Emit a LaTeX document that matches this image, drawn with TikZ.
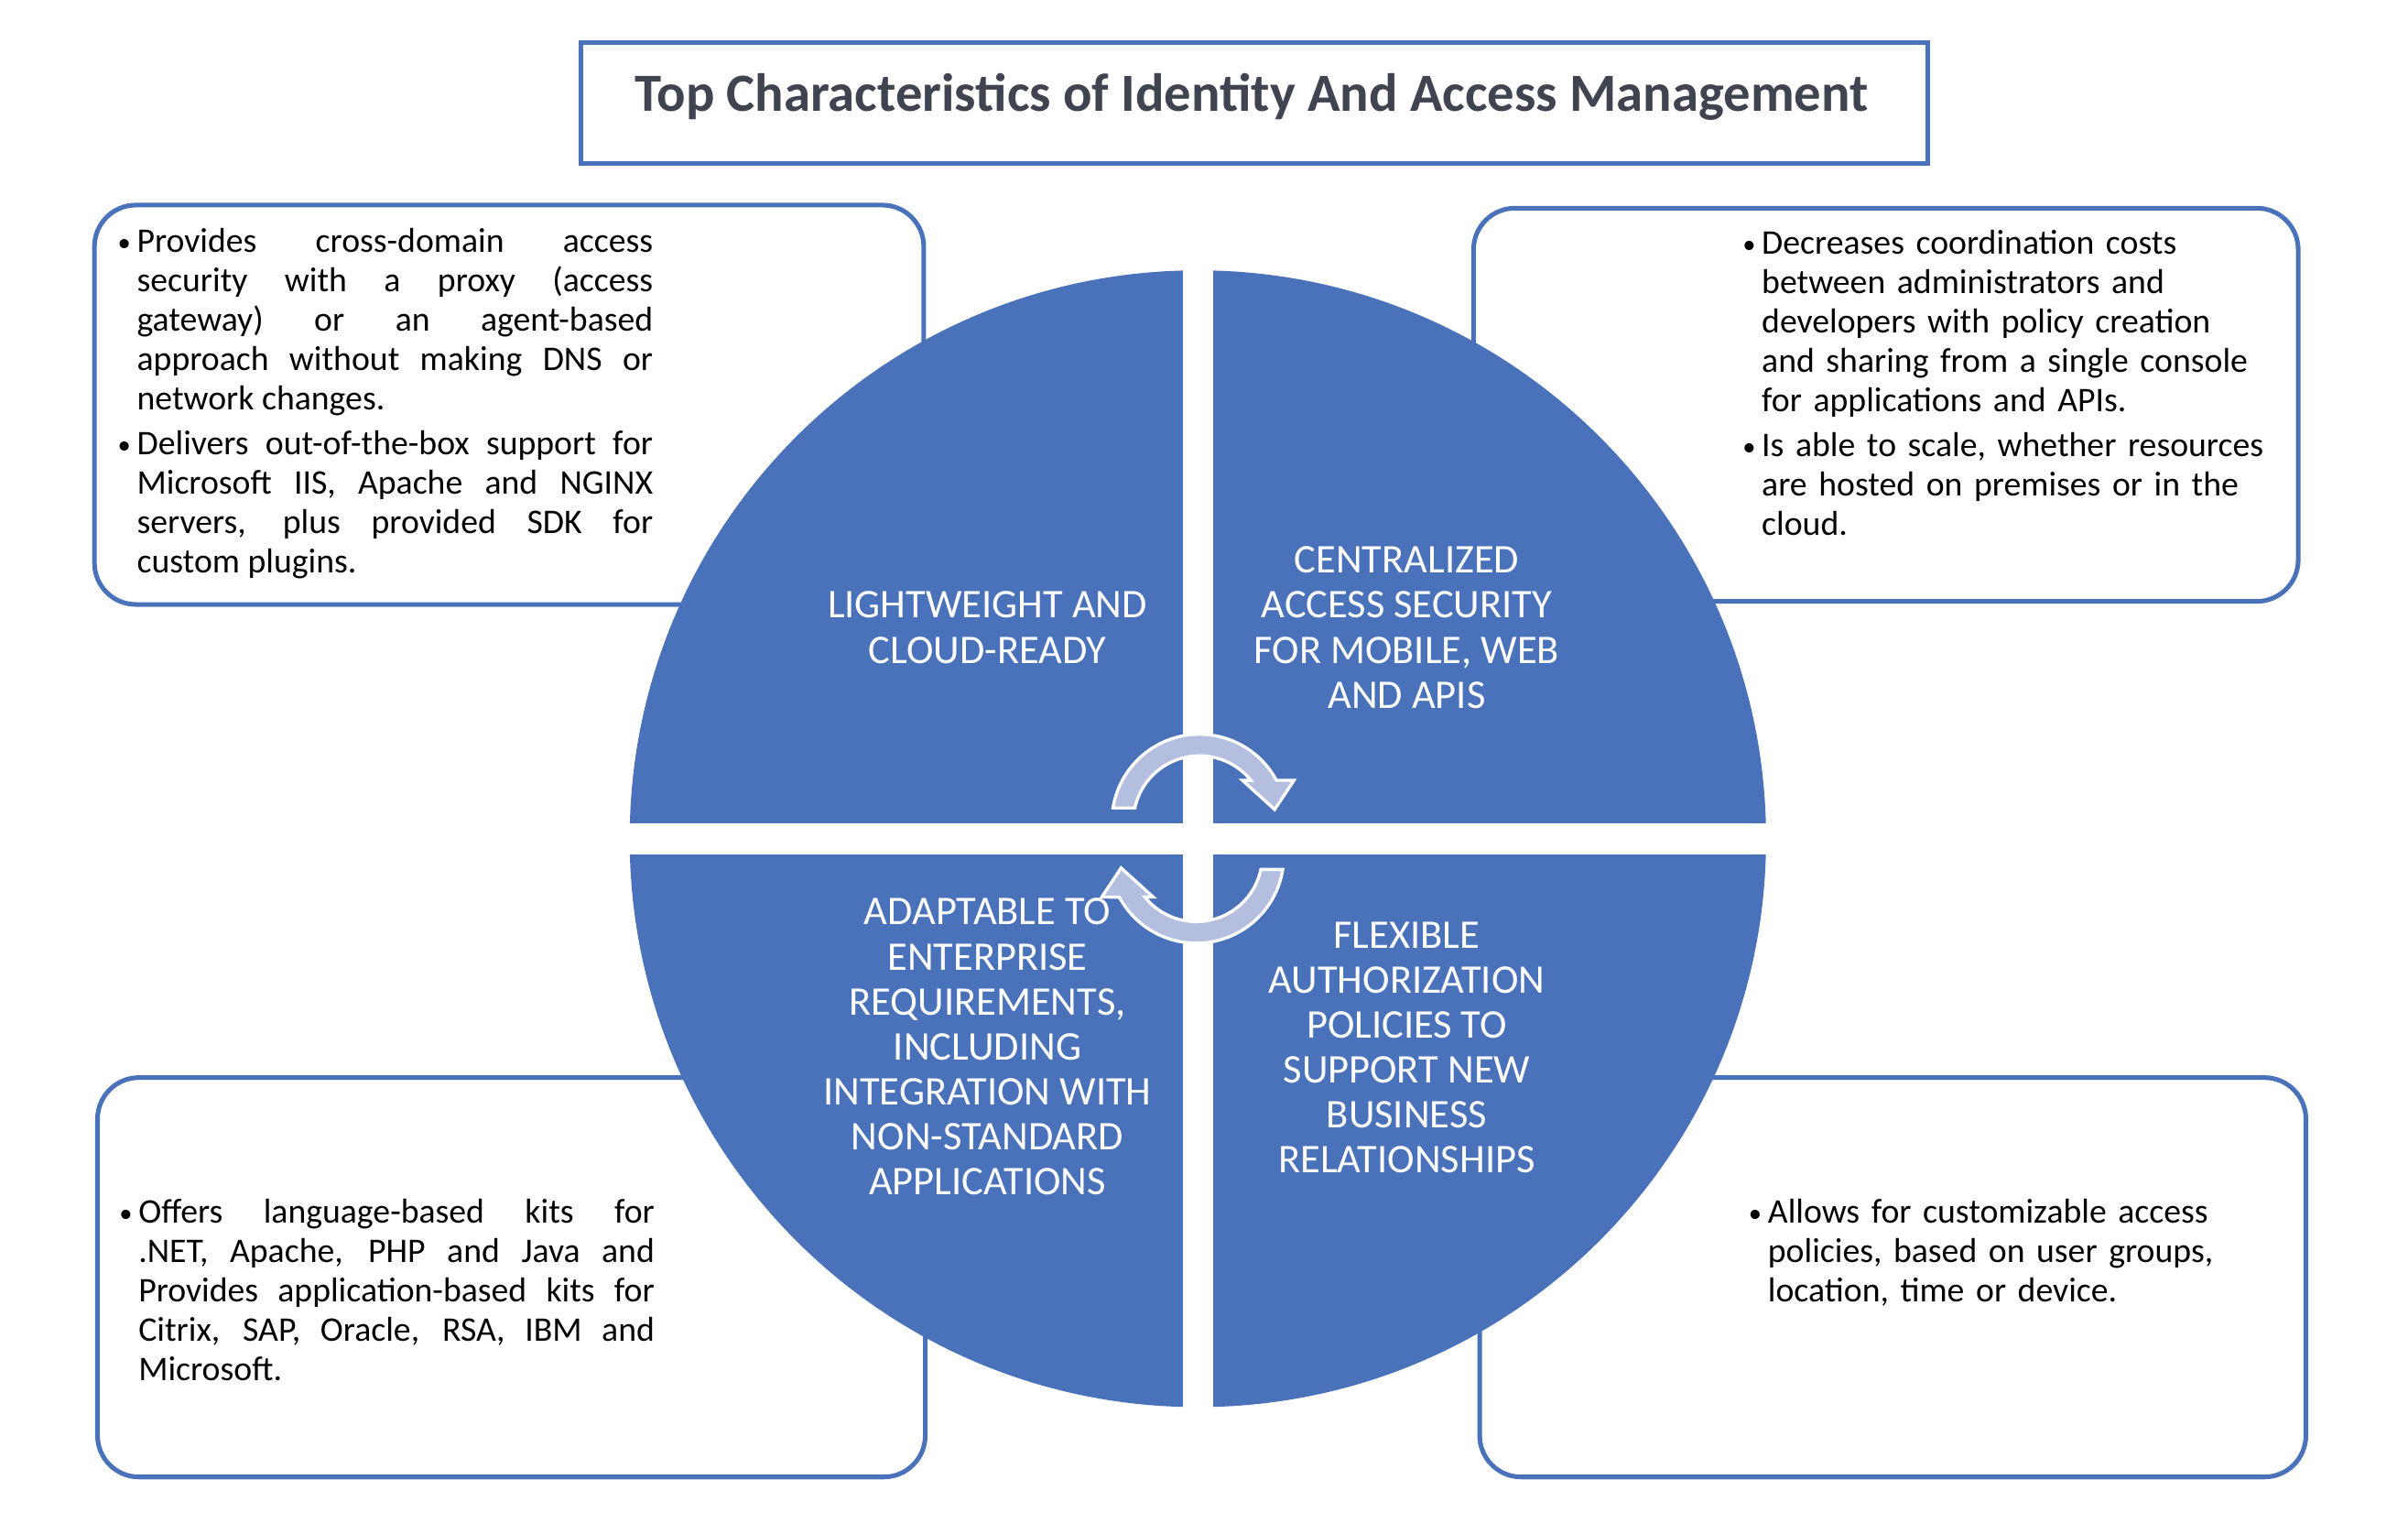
\documentclass[tikz,border=0pt]{standalone}
\usepackage{fontspec}
\setmainfont{Carlito}
\definecolor{iamblue}{RGB}{74,114,187}
\definecolor{arrowfill}{RGB}{180,190,222}
\definecolor{titlegray}{RGB}{64,68,80}
\newcommand{\bul}{\noindent\llap{\makebox[13pt][l]{\hspace{0.5pt}\fontsize{17}{17}\selectfont\raisebox{0.5pt}{•}}}\vrule height 15.7pt width 0pt\relax}
\newcommand{\setupbody}{\hyphenpenalty=10000\tolerance=10000\parskip=3.3pt\relax}
\tikzset{
  callout/.style={draw=iamblue, line width=3pt, rounded corners=27pt, fill=white, inner sep=0pt, anchor=north west},
  quadtext/.style={text=white, align=center, font=\fontsize{26.5}{29.3}\selectfont, inner sep=0pt},
  bodytext/.style={text=black, font=\fontsize{22.5}{25.7}\selectfont, inner sep=0pt, anchor=north west},
  cyclearrow/.style={fill=arrowfill, draw=white, line width=2pt, line join=miter},
}
\begin{document}
\begin{tikzpicture}[x=1pt,y=1pt]
\useasboundingbox (0,0) rectangle (1568,-991);
% title
\node[draw=iamblue, line width=3pt, minimum width=877pt, minimum height=79pt, anchor=north west, inner sep=0pt] (titlebox) at (377,-26) {};
\node[font=\fontsize{35}{40}\selectfont\bfseries, text=titlegray, inner sep=0pt, anchor=base] (title) at (815,-72.5) {Top Characteristics of Identity And Access Management};
% callout boxes
\node[callout, minimum width=540pt, minimum height=260pt] (tlbox) at (60,-132) {};
\node[callout, minimum width=537pt, minimum height=256pt] (trbox) at (958,-134) {};
\node[callout, minimum width=539pt, minimum height=260pt] (blbox) at (62,-700) {};
\node[callout, minimum width=538pt, minimum height=260pt] (brbox) at (962,-700) {};
% disc
\node[circle, fill=iamblue, minimum size=740pt, inner sep=0pt] (disc) at (780,-546) {};
\fill[white] (770,-170) rectangle (790,-925);
\fill[white] (400,-536) rectangle (1160,-556);
% cycle arrows
\begin{scope}[shift={(781,-535)}]
\path[cyclearrow] (170.9:57pt) arc[start angle=170.9, end angle=28.3, radius=57pt] -- (61.6,27) -- (49,8) -- (28,27) -- (33.5,27) arc[start angle=38.9, end angle=167.9, radius=43pt] -- cycle;
\end{scope}
\begin{scope}[shift={(779,-557)}, rotate=180]
\path[cyclearrow] (170.9:57pt) arc[start angle=170.9, end angle=28.3, radius=57pt] -- (61.6,27) -- (49,8) -- (28,27) -- (33.5,27) arc[start angle=38.9, end angle=167.9, radius=43pt] -- cycle;
\end{scope}
% quadrant texts
\node[quadtext] (qtl) at (643,-408.5) {LIGHTWEIGHT AND\\CLOUD-READY};
\node[quadtext] (qtr) at (916,-408.5) {CENTRALIZED\\ACCESS SECURITY\\FOR MOBILE, WEB\\AND APIS};
\node[quadtext] (qbl) at (643,-681.5) {ADAPTABLE TO\\ENTERPRISE\\REQUIREMENTS,\\INCLUDING\\INTEGRATION WITH\\NON-STANDARD\\APPLICATIONS};
\node[quadtext] (qbr) at (916,-682) {FLEXIBLE\\AUTHORIZATION\\POLICIES TO\\SUPPORT NEW\\BUSINESS\\RELATIONSHIPS};
% body texts
\node[bodytext, text width=336pt, align=justify] (tltext) at (89,-148.3) {\setupbody%
\bul Provides cross-domain access\linebreak security with a proxy (access\linebreak gateway) or an agent-based\linebreak approach without making DNS or\linebreak network changes.\par
\bul Delivers out-of-the-box support for\linebreak Microsoft IIS, Apache and NGINX\linebreak servers, plus provided SDK for\linebreak custom plugins.};
\node[bodytext, text width=360pt, align=left] (trtext) at (1147,-149.3) {\setupbody%
\bul Decreases coordination costs\newline between administrators and\newline developers with policy creation\newline and sharing from a single console\newline for applications and APIs.\par
\bul Is able to scale, whether resources\newline are hosted on premises or in the\newline cloud.};
\node[bodytext, text width=336pt, align=justify] (bltext) at (90,-780.3) {\setupbody%
\bul Offers language-based kits for\linebreak .NET, Apache, PHP and Java and\linebreak Provides application-based kits for\linebreak Citrix, SAP, Oracle, RSA, IBM and\linebreak Microsoft.};
\node[bodytext, text width=360pt, align=left] (brtext) at (1151,-780.3) {\setupbody%
\bul Allows for customizable access\newline policies, based on user groups,\newline location, time or device.};
\end{tikzpicture}
\end{document}
